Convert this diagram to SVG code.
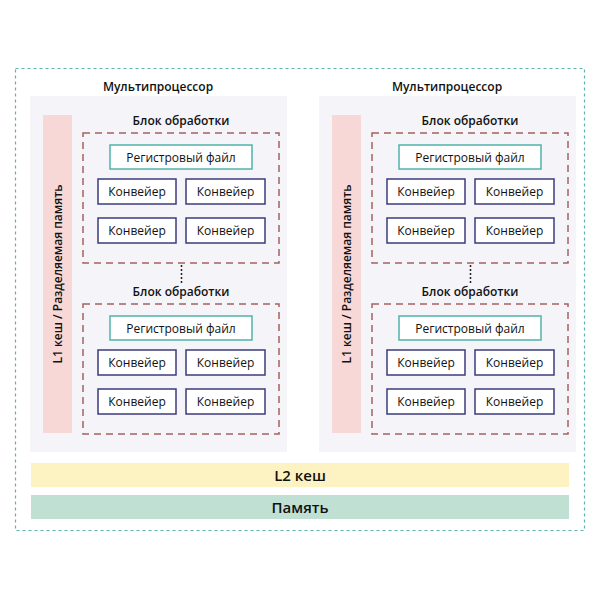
<svg xmlns="http://www.w3.org/2000/svg" width="600" height="600" viewBox="0 0 600 600">
<style>
text{font-family:"Open Sans","Noto Sans",sans-serif;fill:#111;text-anchor:middle;dominant-baseline:central}
.title{font-size:12px;font-weight:600}
.lbl{font-size:12px}
.panel{fill:#f4f4f9}
.l1{fill:#f8d8d6}
.blk{fill:none;stroke:#a2625f;stroke-width:1.5;stroke-dasharray:7 5}
.reg{fill:#fff;stroke:#4fb3ab;stroke-width:1.5}
.pipe{fill:#fff;stroke:#3b3b7c;stroke-width:1.5}
.big{font-size:15px;font-weight:600}
</style>
<rect x="15.5" y="68.5" width="569" height="462" fill="#fff" stroke="#5fb5ad" stroke-width="1.2" stroke-dasharray="3 3"/>
<defs>
<g id="pb">
<rect class="blk" x="83" y="0" width="196" height="130"/>
<rect class="reg" x="110" y="12" width="142" height="24"/>
<text class="lbl" x="181" y="24">Регистровый файл</text>
<rect class="pipe" x="98" y="46" width="78" height="25"/>
<text class="lbl" x="137" y="58.5">Конвейер</text>
<rect class="pipe" x="186" y="46" width="79" height="25"/>
<text class="lbl" x="225.5" y="58.5">Конвейер</text>
<rect class="pipe" x="98" y="85" width="78" height="25"/>
<text class="lbl" x="137" y="97.5">Конвейер</text>
<rect class="pipe" x="186" y="85" width="79" height="25"/>
<text class="lbl" x="225.5" y="97.5">Конвейер</text>
</g>
<g id="mp">
<rect class="panel" x="30" y="96" width="257" height="356"/>
<rect class="l1" x="43" y="115" width="29" height="318"/>
<text class="title" transform="translate(57.5 274) rotate(-90)">L1 кеш / Разделяемая память</text>
<text class="title" x="181" y="120">Блок обработки</text>
<use href="#pb" y="133"/>
<text class="title" x="181" y="291">Блок обработки</text>
<use href="#pb" y="304"/>
<line x1="181.5" y1="265" x2="181.5" y2="283" stroke="#222" stroke-width="1.5" stroke-dasharray="2 2"/>
</g>
</defs>
<g id="mp1">
<text class="title" x="158" y="86">Мультипроцессор</text>
<use href="#mp"/>
</g>
<g id="mp2">
<text class="title" x="447" y="86">Мультипроцессор</text>
<use href="#mp" x="289"/>
</g>
<g id="l2">
<rect x="31" y="463" width="538" height="24" fill="#fdf3c2"/>
<text class="big" x="300" y="475">L2 кеш</text>
</g>
<g id="mem">
<rect x="31" y="495" width="538" height="24" fill="#c0e0d3"/>
<text class="big" x="300" y="507">Память</text>
</g>
</svg>
